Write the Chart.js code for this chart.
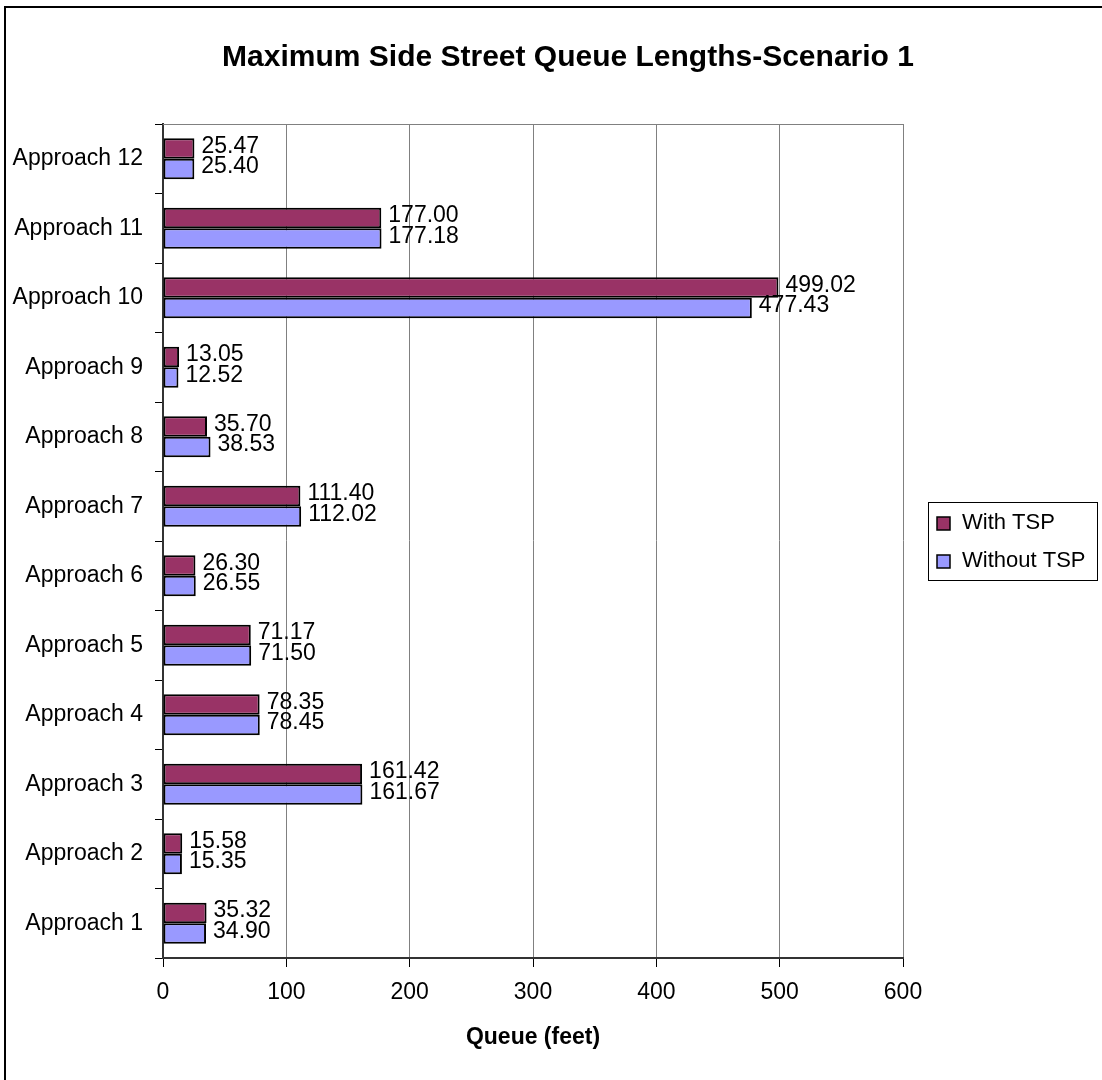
<!DOCTYPE html>
<html>
<head>
<meta charset="utf-8">
<title>Maximum Side Street Queue Lengths</title>
<script src="https://cdn.jsdelivr.net/npm/chart.js@4.4.1/dist/chart.umd.min.js"></script>
<style>
  body { margin: 0; background: #fff; }
  #queueChart { display: block; }
</style>
</head>
<body>
<canvas id="queueChart" width="1102" height="1080"></canvas>
<script>
'use strict'
// approaches listed top to bottom as they appear on the chart
var approaches = ['Approach 12', 'Approach 11', 'Approach 10', 'Approach 9', 'Approach 8', 'Approach 7',
    'Approach 6', 'Approach 5', 'Approach 4', 'Approach 3', 'Approach 2', 'Approach 1'];
var withTsp = [25.47, 177.00, 499.02, 13.05, 35.70, 111.40, 26.30, 71.17, 78.35, 161.42, 15.58, 35.32];
var withoutTsp = [25.40, 177.18, 477.43, 12.52, 38.53, 112.02, 26.55, 71.50, 78.45, 161.67, 15.35, 34.90];
var seriesNames = ['With TSP', 'Without TSP'];
var queueTicks = [0, 100, 200, 300, 400, 500, 600];

var chartTitle = 'Maximum Side Street Queue Lengths-Scenario 1';
var axisTitle = 'Queue (feet)';
var fontName = '"Liberation Sans", Arial, sans-serif';

// frame, title, axis title, value labels and the boxed legend
var excelLook = {
    id: 'excelLook',
    beforeDraw: function (chart) {
        var ctx = chart.ctx;
        ctx.save();
        ctx.fillStyle = '#fff';
        ctx.fillRect(0, 0, chart.width, chart.height);
        ctx.strokeStyle = '#000';
        ctx.lineWidth = 2;
        ctx.strokeRect(5, 7, 1102, 1080);
        ctx.restore();
    },
    afterDraw: function (chart) {
        var ctx = chart.ctx;
        var area = chart.chartArea;
        ctx.save();

        // top edge of plot box
        ctx.strokeStyle = '#808080';
        ctx.lineWidth = 1;
        ctx.beginPath();
        ctx.moveTo(area.left, area.top + 0.5);
        ctx.lineTo(area.right, area.top + 0.5);
        ctx.stroke();

        ctx.fillStyle = '#000';
        ctx.textAlign = 'center';
        ctx.textBaseline = 'middle';
        ctx.font = 'bold 30px ' + fontName;
        ctx.fillText(chartTitle, 568, 58);

        ctx.font = 'bold 23px ' + fontName;
        ctx.fillText(axisTitle, (area.left + area.right) / 2, 1038);

        // value next to each bar
        ctx.font = '23px ' + fontName;
        ctx.textAlign = 'left';
        chart.data.datasets.forEach(function (ds, i) {
            var meta = chart.getDatasetMeta(i);
            meta.data.forEach(function (bar, j) {
                ctx.fillText(ds.data[j].toFixed(2), bar.x + 7, bar.y - 2);
            });
        });

        // legend box
        var lx = 928, ly = 502, lw = 169, lh = 78;
        ctx.font = '22px ' + fontName;
        ctx.strokeStyle = '#000';
        ctx.lineWidth = 1;
        ctx.strokeRect(lx + 0.5, ly + 0.5, lw, lh);
        chart.data.datasets.forEach(function (ds, i) {
            var cy = ly + 21 + i * 38;
            ctx.fillStyle = ds.backgroundColor;
            ctx.fillRect(937, cy - 6, 13, 13);
            ctx.strokeStyle = '#000';
            ctx.lineWidth = 1.5;
            ctx.strokeRect(937, cy - 6, 13, 13);
            ctx.fillStyle = '#000';
            ctx.fillText(ds.label, 962, cy);
        });
        ctx.restore();
    }
};

var ctx = document.getElementById('queueChart').getContext('2d');
var chart = new Chart(ctx, {
    type: 'bar',
    data: {
        labels: approaches,
        datasets: [{
            label: seriesNames[0],
            data: withTsp,
            backgroundColor: '#993366',
            borderColor: '#000',
            borderWidth: 2,
            borderSkipped: false
        }, {
            label: seriesNames[1],
            data: withoutTsp,
            backgroundColor: '#9999ff',
            borderColor: '#000',
            borderWidth: 2,
            borderSkipped: false
        }]
    },
    options: {
        indexAxis: 'y',
        responsive: false,
        animation: false,
        devicePixelRatio: 1,
        categoryPercentage: 0.59,
        barPercentage: 1.0,
        layout: { padding: { top: 124, right: 199, bottom: 0, left: 0 } },
        plugins: {
            legend: { display: false },
            title: { display: false },
            tooltip: { enabled: false }
        },
        scales: {
            x: {
                min: 0,
                max: 600,
                afterBuildTicks: function (scale) {
                    scale.ticks = queueTicks.map(function (v) { return { value: v }; });
                },
                afterFit: function (scale) { scale.height = 122; },
                grid: { color: '#808080', lineWidth: 1, tickLength: 9, tickColor: '#000' },
                border: { color: '#333', width: 2 },
                ticks: { color: '#000', padding: 12, font: { family: fontName, size: 23 } }
            },
            y: {
                afterFit: function (scale) { scale.width = 163; },
                grid: { offset: true, drawOnChartArea: false, tickLength: 8, tickColor: '#000' },
                border: { color: '#333', width: 2 },
                ticks: { color: '#000', padding: 12, font: { family: fontName, size: 23 } }
            }
        }
    },
    plugins: [excelLook]
});
</script>
</body>
</html>
